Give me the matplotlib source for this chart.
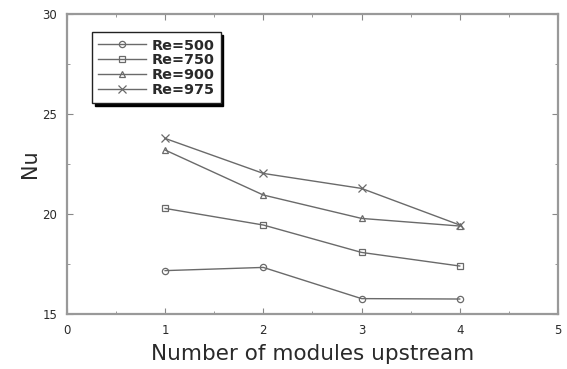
import matplotlib
matplotlib.use('Agg')
import matplotlib.pyplot as plt
from matplotlib.ticker import MultipleLocator

plt.rcParams['font.family'] = ['DejaVu Sans']

modules = [1, 2, 3, 4]
nu_re500 = [17.17, 17.33, 15.77, 15.75]
nu_re750 = [20.28, 19.45, 18.08, 17.40]
nu_re900 = [23.20, 20.95, 19.78, 19.40]
nu_re975 = [23.78, 22.03, 21.28, 19.45]

series = [
    ('Re=500', nu_re500, 'o', 4.5),
    ('Re=750', nu_re750, 's', 4.5),
    ('Re=900', nu_re900, '^', 5),
    ('Re=975', nu_re975, 'x', 5.5),
]

fig = plt.figure(figsize=(5.67, 3.69), dpi=100)
ax = fig.add_axes([0.118, 0.149, 0.866, 0.813])

line_col = '#6a6a6a'
for label, vals, mk, ms in series:
    ax.plot(modules, vals, color=line_col, linewidth=1.0, marker=mk,
            markersize=ms, markerfacecolor='none', markeredgecolor=line_col,
            markeredgewidth=0.9, label=label)

ax.set_xlim(0, 5)
ax.set_ylim(15, 30)
ax.xaxis.set_major_locator(MultipleLocator(1))
ax.xaxis.set_minor_locator(MultipleLocator(0.5))
ax.yaxis.set_major_locator(MultipleLocator(5))
ax.yaxis.set_minor_locator(MultipleLocator(2.5))
ax.tick_params(which='both', direction='in', top=True, right=True,
               color='#888888', labelsize=8.5, labelcolor='#2a2a2a')
ax.tick_params(which='major', length=4, pad=7)
ax.tick_params(which='minor', length=2.5)

for sp in ax.spines.values():
    sp.set_color('#999999')
    sp.set_linewidth(1.6)

ax.set_xlabel('Number of modules upstream', fontsize=15.5, color='#2a2a2a', labelpad=5)
ax.set_ylabel('Nu', fontsize=15, color='#2a2a2a', labelpad=2)

leg = ax.legend(loc='upper left', bbox_to_anchor=(0.051, 0.94), borderaxespad=0,
                prop={'size': 10.4, 'weight': 'bold'}, frameon=True, fancybox=False,
                shadow={'color': 'black', 'alpha': 1.0},
                edgecolor='#222222', handlelength=3.3, labelspacing=0.05,
                borderpad=0.45, handletextpad=0.35)
leg.get_frame().set_linewidth(1.0)
for t in leg.get_texts():
    t.set_color('#2a2a2a')

fig.savefig('out.png', dpi=100)
